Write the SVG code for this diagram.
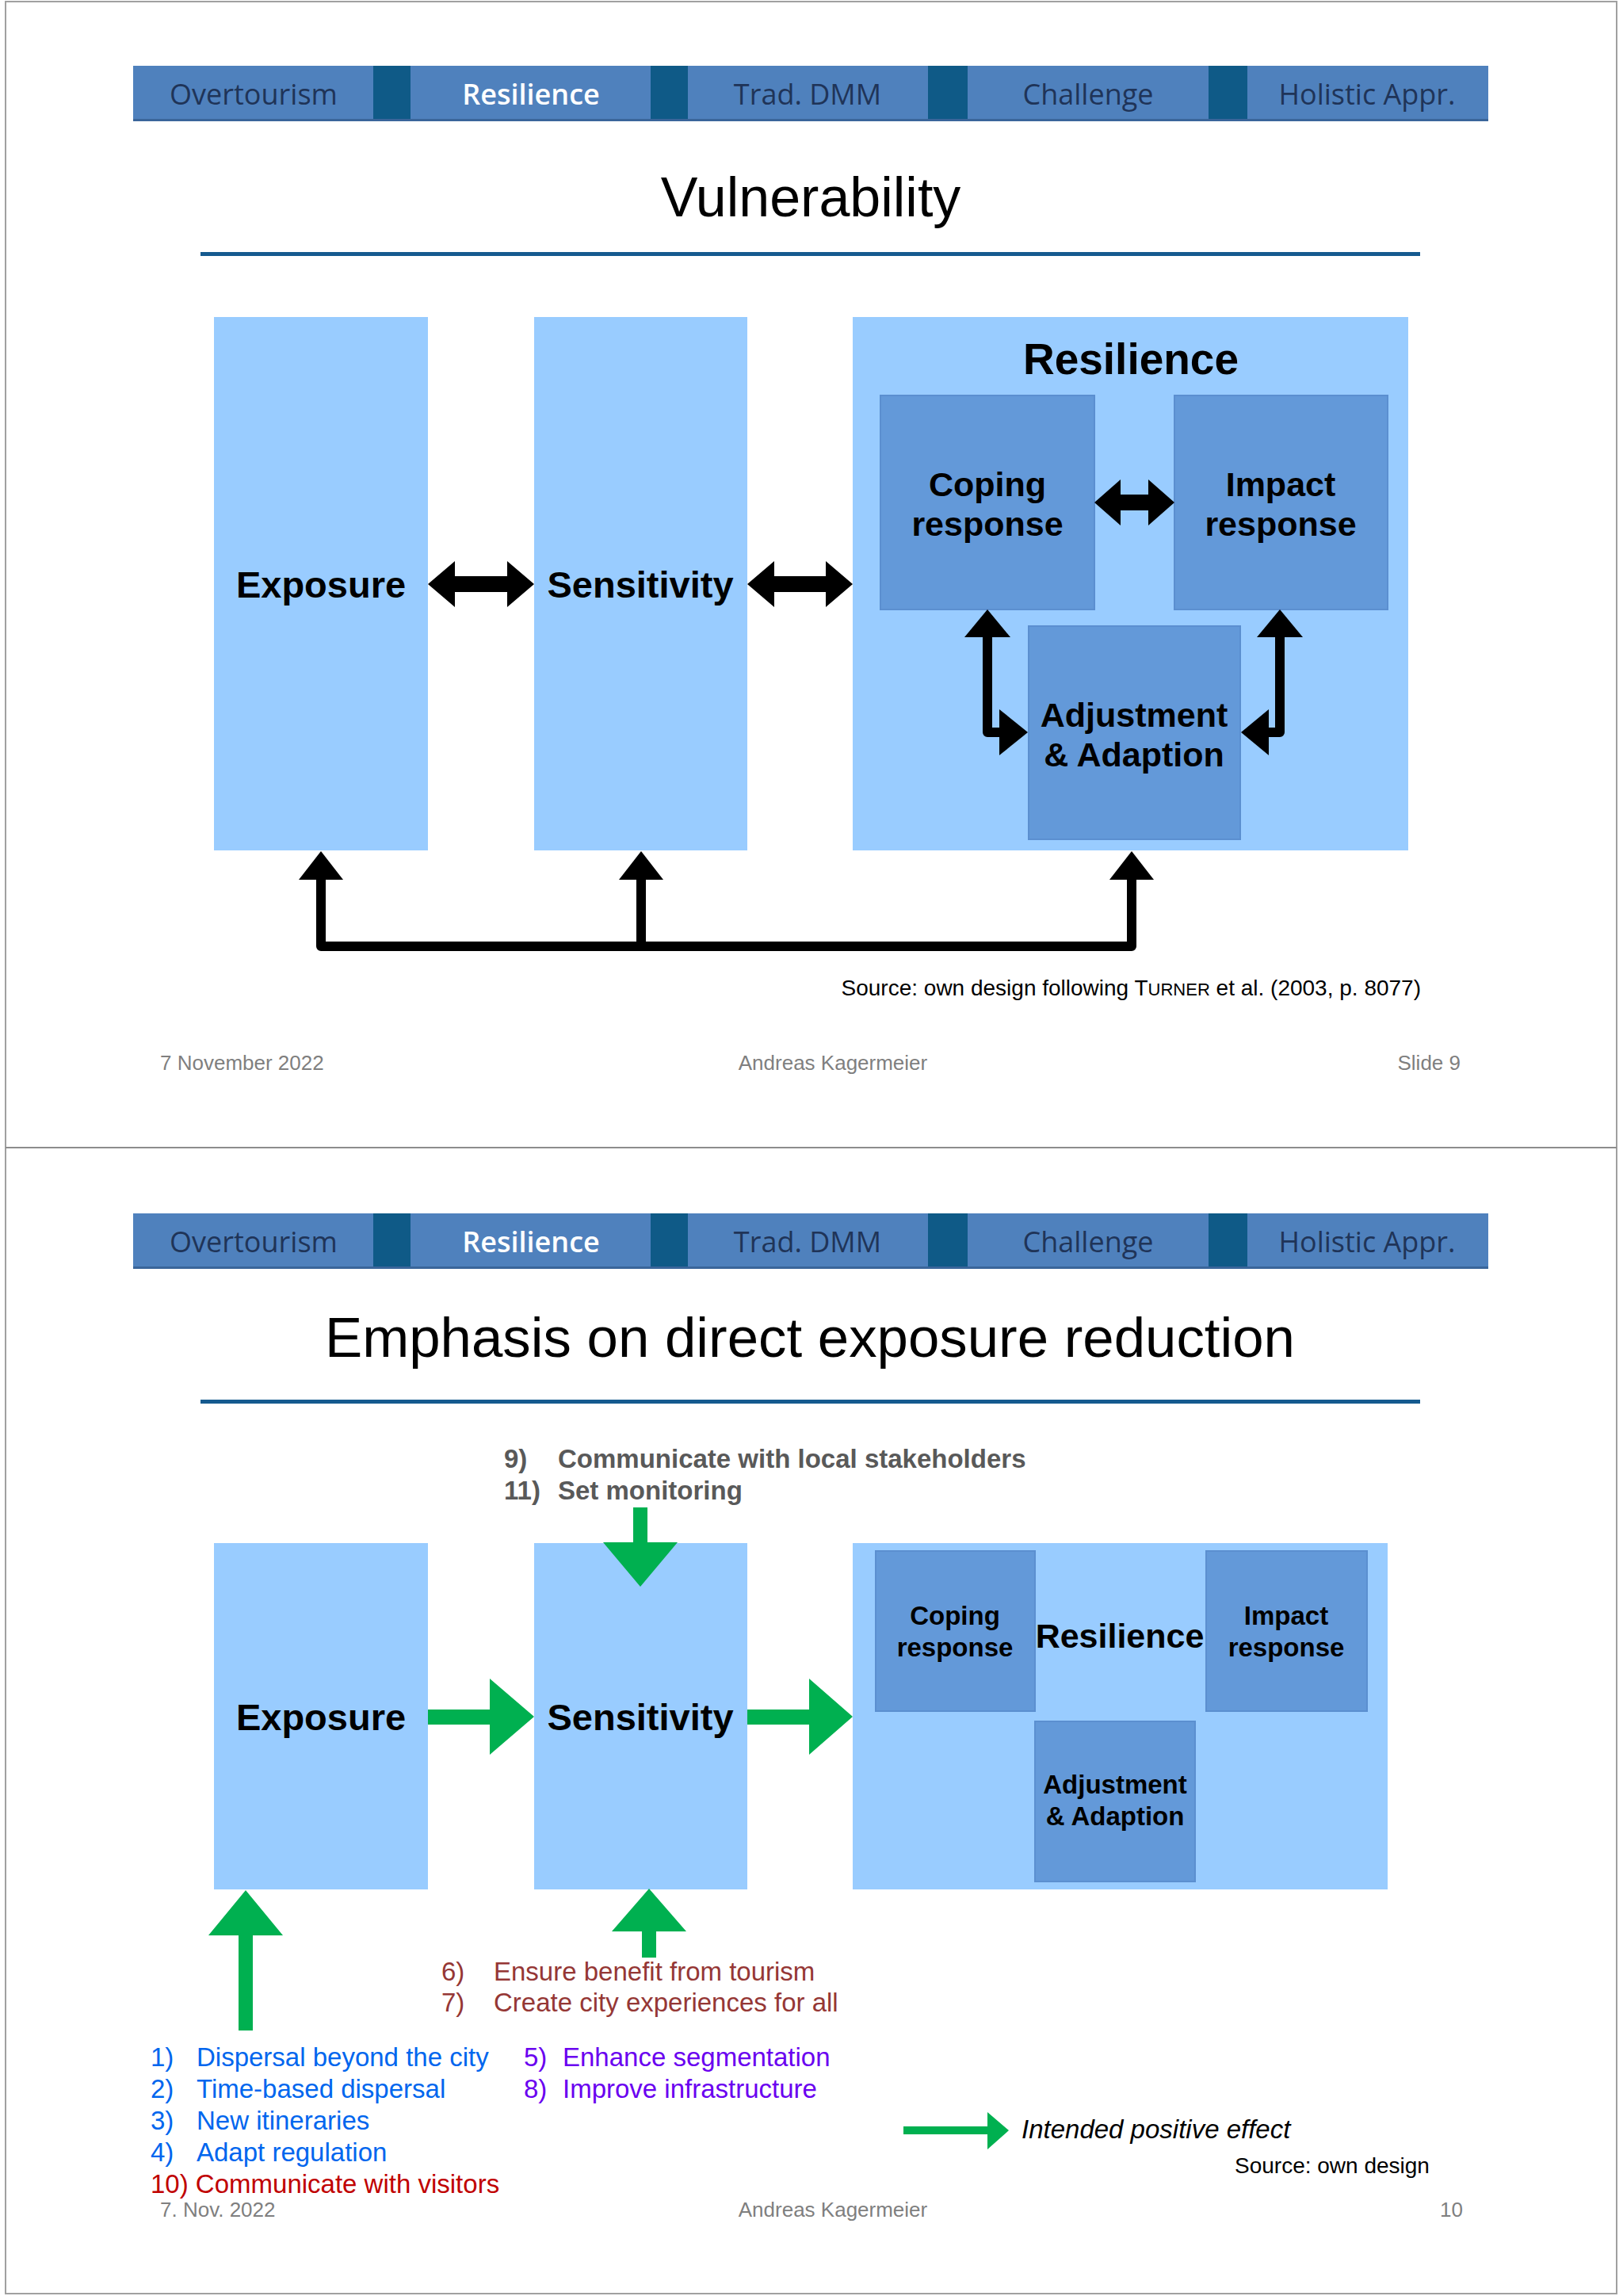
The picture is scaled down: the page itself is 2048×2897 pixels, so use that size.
<svg xmlns="http://www.w3.org/2000/svg" width="2048" height="2897" viewBox="0 0 2048 2897">
<style>
.nav{fill:#4F81BD}
.sep{fill:#0F5A87}
.navt{font-family:"Open Sans","Liberation Sans",sans-serif;font-size:36px;fill:#1F3458;text-anchor:middle}
.navs{font-family:"Open Sans","Liberation Sans",sans-serif;font-size:36px;fill:#FFFFFF;font-weight:600;text-anchor:middle}
.title{font-family:"Liberation Sans",Arial,sans-serif;font-size:70px;fill:#000;text-anchor:middle}
.uline{fill:#155A8F}
.outer{fill:#99CCFF}
.inner{fill:#6399D9;stroke:#5B8FD0;stroke-width:2}
.lbl{font-family:"Liberation Sans",Arial,sans-serif;font-weight:bold;fill:#000;text-anchor:middle}
.foot{font-family:"Liberation Sans",Arial,sans-serif;font-size:26px;fill:#7F7F7F}
.src{font-family:"Liberation Sans",Arial,sans-serif;font-size:28px;fill:#000}
.blk{fill:#000}
.grn{fill:#00B050}
.li{font-family:"Liberation Sans",Arial,sans-serif;font-size:33px}
</style>
<rect x="0" y="0" width="2048" height="2897" fill="#FFFFFF"/>
<rect x="7" y="2" width="2033" height="2892" fill="none" stroke="#A0A0A0" stroke-width="2"/>
<line x1="7" y1="1448" x2="2040" y2="1448" stroke="#8C8C8C" stroke-width="2"/>

<!-- ===== Slide 1 ===== -->
<g id="nav1">
<rect class="nav" x="168" y="83" width="1710" height="69"/>
<rect class="sep" x="471" y="83" width="47" height="69"/>
<rect class="sep" x="821" y="83" width="47" height="69"/>
<rect class="sep" x="1171" y="83" width="50" height="69"/>
<rect class="sep" x="1525" y="83" width="49" height="69"/>
<rect x="168" y="150" width="1710" height="3" fill="#3A659A"/>
<text class="navt" x="320" y="132">Overtourism</text>
<text class="navs" x="670" y="132">Resilience</text>
<text class="navt" x="1019" y="132">Trad. DMM</text>
<text class="navt" x="1373" y="132">Challenge</text>
<text class="navt" x="1725" y="132">Holistic Appr.</text>
</g>
<text id="title1" class="title" x="1023" y="273">Vulnerability</text>
<rect class="uline" x="253" y="318" width="1539" height="5"/>

<g id="exposure1">
<rect class="outer" x="270" y="400" width="270" height="673"/>
<text class="lbl" x="405" y="754" font-size="47">Exposure</text>
</g>
<g id="sensitivity1">
<rect class="outer" x="674" y="400" width="269" height="673"/>
<text class="lbl" x="808" y="754" font-size="47">Sensitivity</text>
</g>
<g id="resilience1">
<rect class="outer" x="1076" y="400" width="701" height="673"/>
<text class="lbl" x="1427" y="472" font-size="55">Resilience</text>
</g>
<g id="coping1">
<rect class="inner" x="1111" y="499" width="270" height="270"/>
<text class="lbl" x="1246" y="626" font-size="43">Coping</text>
<text class="lbl" x="1246" y="676" font-size="43">response</text>
</g>
<g id="impact1">
<rect class="inner" x="1482" y="499" width="269" height="270"/>
<text class="lbl" x="1616" y="626" font-size="43">Impact</text>
<text class="lbl" x="1616" y="676" font-size="43">response</text>
</g>
<g id="adjust1">
<rect class="inner" x="1298" y="790" width="267" height="269"/>
<text class="lbl" x="1431" y="917" font-size="43">Adjustment</text>
<text class="lbl" x="1431" y="967" font-size="43">&amp; Adaption</text>
</g>

<g id="connectors1">
<polygon class="blk" points="540,737 574,708 574,727 640,727 640,708 674,737 640,766 640,747 574,747 574,766"/>
<polygon class="blk" points="943,737 977,708 977,727 1042,727 1042,708 1076,737 1042,766 1042,747 977,747 977,766"/>
<polygon class="blk" points="1381,634 1414,605 1414,624 1449,624 1449,605 1482,634 1449,663 1449,644 1414,644 1414,663"/>
<path d="M1246,800 V924 H1266" fill="none" stroke="#000" stroke-width="12" stroke-linejoin="round"/>
<polygon class="blk" points="1246,769 1275,804 1217,804"/>
<polygon class="blk" points="1297,924 1261,895 1261,953"/>
<path d="M1615,800 V924 H1596" fill="none" stroke="#000" stroke-width="12" stroke-linejoin="round"/>
<polygon class="blk" points="1615,769 1644,804 1586,804"/>
<polygon class="blk" points="1566,924 1601,895 1601,953"/>
<path d="M405,1106 V1194 H1428 V1106 M809,1106 V1194" fill="none" stroke="#000" stroke-width="12" stroke-linejoin="round"/>
<polygon class="blk" points="405,1074 433,1110 377,1110"/>
<polygon class="blk" points="809,1074 837,1110 781,1110"/>
<polygon class="blk" points="1428,1074 1456,1110 1400,1110"/>
</g>

<text class="src" x="1793" y="1256" text-anchor="end" font-size="28.6">Source: own design following T<tspan font-size="22">URNER</tspan> et al. (2003, p. 8077)</text>
<text class="foot" x="202" y="1350">7 November 2022</text>
<text class="foot" x="1051" y="1350" text-anchor="middle">Andreas Kagermeier</text>
<text class="foot" x="1843" y="1350" text-anchor="end">Slide 9</text>

<!-- ===== Slide 2 ===== -->
<g id="nav2">
<rect class="nav" x="168" y="1531" width="1710" height="69"/>
<rect class="sep" x="471" y="1531" width="47" height="69"/>
<rect class="sep" x="821" y="1531" width="47" height="69"/>
<rect class="sep" x="1171" y="1531" width="50" height="69"/>
<rect class="sep" x="1525" y="1531" width="49" height="69"/>
<rect x="168" y="1598" width="1710" height="3" fill="#3A659A"/>
<text class="navt" x="320" y="1580">Overtourism</text>
<text class="navs" x="670" y="1580">Resilience</text>
<text class="navt" x="1019" y="1580">Trad. DMM</text>
<text class="navt" x="1373" y="1580">Challenge</text>
<text class="navt" x="1725" y="1580">Holistic Appr.</text>
</g>
<text id="title2" class="title" x="1022" y="1712" font-size="71" textLength="1224" lengthAdjust="spacingAndGlyphs">Emphasis on direct exposure reduction</text>
<rect class="uline" x="253" y="1766" width="1539" height="5"/>

<g font-family="Liberation Sans, Arial, sans-serif" font-weight="bold" font-size="33" fill="#595959">
<text x="636" y="1852">9)</text><text x="704" y="1852">Communicate with local stakeholders</text>
<text x="636" y="1892">11)</text><text x="704" y="1892">Set monitoring</text>
</g>

<g id="exposure2">
<rect class="outer" x="270" y="1947" width="270" height="437"/>
<text class="lbl" x="405" y="2183" font-size="47">Exposure</text>
</g>
<g id="sensitivity2">
<rect class="outer" x="674" y="1947" width="269" height="437"/>
<text class="lbl" x="808" y="2183" font-size="47">Sensitivity</text>
</g>
<g id="resilience2">
<rect class="outer" x="1076" y="1947" width="675" height="437"/>
<text class="lbl" x="1413" y="2079" font-size="43">Resilience</text>
</g>
<g id="coping2">
<rect class="inner" x="1105" y="1957" width="201" height="202"/>
<text class="lbl" x="1205" y="2050" font-size="33">Coping</text>
<text class="lbl" x="1205" y="2090" font-size="33">response</text>
</g>
<g id="impact2">
<rect class="inner" x="1522" y="1957" width="203" height="202"/>
<text class="lbl" x="1623" y="2050" font-size="33">Impact</text>
<text class="lbl" x="1623" y="2090" font-size="33">response</text>
</g>
<g id="adjust2">
<rect class="inner" x="1306" y="2172" width="202" height="202"/>
<text class="lbl" x="1407" y="2263" font-size="33">Adjustment</text>
<text class="lbl" x="1407" y="2303" font-size="33">&amp; Adaption</text>
</g>

<g id="connectors2">
<polygon class="grn" points="540,2157 618,2157 618,2118 674,2166 618,2214 618,2176 540,2176"/>
<polygon class="grn" points="943,2157 1021,2157 1021,2118 1076,2166 1021,2214 1021,2176 943,2176"/>
<polygon class="grn" points="799,1902 817,1902 817,1946 855,1946 808,2002 761,1946 799,1946"/>
<polygon class="grn" points="819,2383 866,2437 828,2437 828,2470 810,2470 810,2437 772,2437"/>
<polygon class="grn" points="310,2385 357,2442 319,2442 319,2562 301,2562 301,2442 263,2442"/>
</g>

<g fill="#953735" class="li">
<text x="557" y="2499">6)</text><text x="623" y="2499">Ensure benefit from tourism</text>
<text x="557" y="2538">7)</text><text x="623" y="2538">Create city experiences for all</text>
</g>
<g fill="#0066EE" class="li">
<text x="190" y="2607">1)</text><text x="248" y="2607">Dispersal beyond the city</text>
<text x="190" y="2647">2)</text><text x="248" y="2647">Time-based dispersal</text>
<text x="190" y="2687">3)</text><text x="248" y="2687">New itineraries</text>
<text x="190" y="2727">4)</text><text x="248" y="2727">Adapt regulation</text>
</g>
<text class="li" fill="#C00000" x="190" y="2767">10) Communicate with visitors</text>
<g fill="#6A00F0" class="li">
<text x="661" y="2607">5)</text><text x="710" y="2607">Enhance segmentation</text>
<text x="661" y="2647">8)</text><text x="710" y="2647">Improve infrastructure</text>
</g>

<g id="legend">
<polygon class="grn" points="1140,2683 1246,2683 1246,2665 1273,2688 1246,2712 1246,2693 1140,2693"/>
<text class="li" x="1289" y="2698" font-style="italic" fill="#000">Intended positive effect</text>
</g>
<text class="src" x="1558" y="2742">Source: own design</text>
<text class="foot" x="202" y="2797">7. Nov. 2022</text>
<text class="foot" x="1051" y="2797" text-anchor="middle">Andreas Kagermeier</text>
<text class="foot" x="1846" y="2797" text-anchor="end">10</text>
</svg>
